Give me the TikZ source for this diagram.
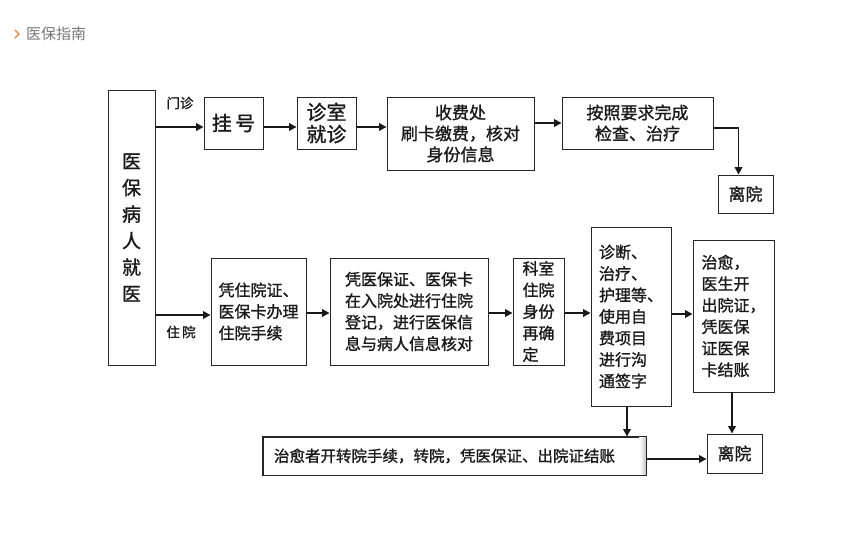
\documentclass[tikz,border=0pt]{standalone}
\usepackage{fontspec}
\setmainfont{Noto Sans CJK SC}[FakeBold=1.2,AutoFakeBold=1.2]
\newfontfamily\hdrfont{Noto Sans CJK SC}
\usetikzlibrary{arrows.meta,calc}
\definecolor{txt}{HTML}{1A1A1A}
\definecolor{hdr}{HTML}{777777}
\definecolor{bulletorange}{HTML}{E8803A}
\begin{document}
\begin{tikzpicture}[x=1pt,y=-1pt,
  box/.style={draw=black!85, line width=0.9pt, fill=white, inner sep=0pt, text=txt, align=left},
  arr/.style={draw=black!90, line width=1.8pt, -{Triangle[length=7.5pt,width=7.5pt]}},
  fa/.style={font=\fontsize{16}{21.5}\selectfont\bfseries},
  fb/.style={font=\fontsize{17}{21}\selectfont\bfseries},
  fc/.style={font=\fontsize{20}{22}\selectfont\bfseries},
  lbl/.style={inner sep=0pt, text=txt, font=\fontsize{13.5}{15}\selectfont\bfseries}]
\useasboundingbox (0,0) rectangle (854,535);
% header
\draw[draw=bulletorange, line width=1.2pt, line cap=round] (15,30) -- (19,34) -- (15,38);
\node[anchor=west, inner sep=0pt, text=hdr, font=\hdrfont\fontsize{15}{17}\selectfont] (hd) at (26,34) {医保指南};
% left box
\node[box, minimum width=47pt, minimum height=275pt, align=center,
      font=\fontsize{19}{26.5}\selectfont\bfseries] (L) at (131.5,227.5) {医\\保\\病\\人\\就\\医};
% top row
\node[box, fc, minimum width=59pt, minimum height=52pt] (gh) at (233.5,123) {挂\,号};
\node[box, fc, minimum width=59pt, minimum height=52pt, align=center] (zs) at (326.5,123) {诊室\\就诊};
\node[box, fb, minimum width=147pt, minimum height=73pt, align=center] (sf) at (460.5,133.5) {收费处\\刷卡缴费，核对\\身份信息};
\node[box, fb, minimum width=151pt, minimum height=52pt, align=center] (az) at (637.5,123) {按照要求完成\\检查、治疗};
\node[box, fb, minimum width=55pt, minimum height=38pt] (ly1) at (745.5,194) {离院};
% bottom row
\node[box, fa, minimum width=95pt, minimum height=107pt] (b1) at (258.5,311.5) {凭住院证、\\医保卡办理\\住院手续};
\node[box, fa, minimum width=158pt, minimum height=107pt] (b2) at (409,311.5) {凭医保证、医保卡\\在入院处进行住院\\登记，进行医保信\\息与病人信息核对};
\node[box, fa, minimum width=51pt, minimum height=107pt] (b3) at (538.5,311.5) {科室\\住院\\身份\\再确\\定};
\node[box, fa, minimum width=80pt, minimum height=179pt] (b4) at (631,316.5) {诊断、\\治疗、\\护理等、\\使用自\\费项目\\进行沟\\通签字};
\node[box, fa, minimum width=81pt, minimum height=152pt] (b5) at (733.5,316) {治愈，\\医生开\\出院证，\\凭医保\\证医保\\卡结账};
% bottom long box with right shading
\node[box, minimum width=383pt, minimum height=38pt] (bb) at (454.5,456) {};
\shade[left color=white, right color=black!25] ([xshift=-7pt]bb.north east) rectangle (bb.south east);
\draw[draw=black!85, line width=0.9pt] (bb.north west) rectangle (bb.south east);
\node[inner sep=0pt, text=txt, font=\fontsize{15.5}{20}\selectfont\bfseries] (bbt) at ([xshift=-10pt]bb.center) {治愈者开转院手续，转院，凭医保证、出院证结账};
\node[box, fb, minimum width=55pt, minimum height=39pt] (ly2) at (734.5,453.5) {离院};
% labels
\node[lbl] (mz) at (180,103) {门诊};
\node[lbl] (zy) at (181,332) {住\,院};
% connectors top
\draw[arr] ([yshift=-4pt]L.east |- gh.west) -- ([yshift=-4pt]gh.west);
\draw[arr] ([yshift=-4pt]gh.east) -- ([yshift=-4pt]zs.west);
\draw[arr] ([yshift=-4pt]zs.east) -- ([yshift=-4pt]sf.west |- zs.east);
\draw[arr] ([yshift=10.5pt]sf.east) -- ([yshift=10.5pt]sf.east -| az.west);
\coordinate (c1) at ([yshift=-5pt]az.east -| ly1.north);
\draw[arr] ([yshift=-5pt]az.east) -- ([xshift=-7pt]c1) -- ([xshift=-7pt]ly1.north);
% connectors bottom
\draw[arr] ([yshift=-3.5pt]L.east |- b1.west) -- ([yshift=-3.5pt]b1.west);
\draw[arr] ([yshift=-1.5pt]b1.east) -- ([yshift=-1.5pt]b2.west);
\draw[arr] ([yshift=-1.5pt]b2.east) -- ([yshift=-1.5pt]b3.west);
\draw[arr] ([yshift=-1.5pt]b3.east) -- ([yshift=-1.5pt]b3.east -| b4.west);
\draw[arr] ([yshift=2.5pt]b4.east) -- ([yshift=2.5pt]b4.east -| b5.west);
\draw[arr] ([xshift=-4pt]b4.south) -- ([xshift=-4pt]b4.south |- bb.north);
\draw[arr] ([xshift=-1.5pt]b5.south) -- ([xshift=-1.5pt]b5.south |- ly2.north);
\draw[arr] ([yshift=-3pt]bb.east) -- ([yshift=-3pt]bb.east -| ly2.west);
\end{tikzpicture}
\end{document}
